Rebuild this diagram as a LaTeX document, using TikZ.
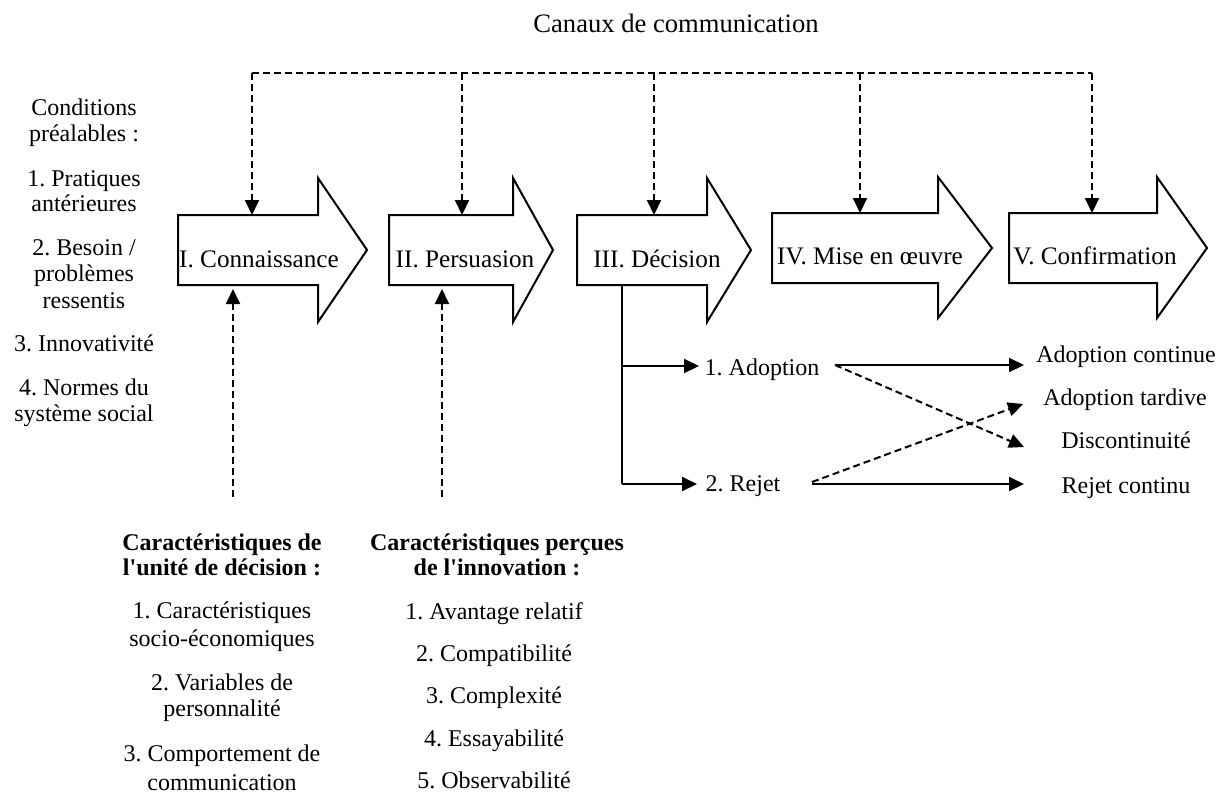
\documentclass[tikz,border=0pt]{standalone}
\usepackage{fontspec}
\setmainfont{Liberation Serif}
\usetikzlibrary{arrows.meta}
\begin{document}
\frenchspacing
\begin{tikzpicture}[x=0.5pt,y=-0.5pt,
  lbl/.style={font=\fontsize{12}{14}\selectfont, inner sep=0pt, anchor=base},
  stagelbl/.style={font=\fontsize{12.6}{15}\selectfont, inner sep=0pt, anchor=base},
  hdr/.style={font=\fontsize{12}{14}\selectfont\bfseries, inner sep=0pt, anchor=base},
  stagebox/.style={draw, line width=1pt, fill=white, line join=miter},
  conn/.style={line width=1pt, -{Triangle[length=7.5pt,width=7pt]}},
  dconn/.style={conn, dash pattern=on 3.5pt off 2pt},
  dline/.style={line width=1pt, dash pattern=on 3.5pt off 2pt}]
\useasboundingbox (0,0) rectangle (1224,799);

% stage arrows
\draw[stagebox] (178,215) -- (318,215) -- (318,178) -- (367,250) -- (318,322) -- (318,285) -- (178,285) -- cycle;
\draw[stagebox] (389,215) -- (513,215) -- (513,178) -- (553,250) -- (513,322) -- (513,285) -- (389,285) -- cycle;
\draw[stagebox] (577,215) -- (707,215) -- (707,178) -- (751,250) -- (707,322) -- (707,285) -- (577,285) -- cycle;
\draw[stagebox] (772,213) -- (938,213) -- (938,177) -- (992,248) -- (938,318) -- (938,283) -- (772,283) -- cycle;
\draw[stagebox] (1009,213) -- (1157,213) -- (1157,177) -- (1207,248) -- (1157,318) -- (1157,283) -- (1009,283) -- cycle;

\node[stagelbl] (s1) at (259,267) {I. Connaissance};
\node[stagelbl] (s2) at (465,267) {II. Persuasion};
\node[stagelbl] (s3) at (657,267) {III. Décision};
\node[stagelbl] (s4) at (870,264) {IV. Mise en œuvre};
\node[stagelbl] (s5) at (1095,264) {V. Confirmation};

% communication channels
\node[font=\fontsize{13.3}{15}\selectfont, inner sep=0pt, anchor=base] (canaux) at (676,32) {Canaux de communication};
\coordinate (c1) at (252,73);
\coordinate (c2) at (462,73);
\coordinate (c3) at (654,73);
\coordinate (c4) at (860,73);
\coordinate (c5) at (1092,73);
\coordinate (t1) at (252,215);
\coordinate (t2) at (462,215);
\coordinate (t3) at (654,215);
\coordinate (t4) at (860,213);
\coordinate (t5) at (1092,213);
\draw[dline] (c1) -- (c5);
\foreach \i in {1,...,5} \draw[dconn] (c\i) -- (t\i);

% left column
\node[lbl] (p1) at (84,115) {Conditions};
\node[lbl] (p2) at (84,141.7) {préalables :};
\node[lbl] (p3) at (84,186.7) {1. Pratiques};
\node[lbl] (p4) at (84,211.7) {antérieures};
\node[lbl] (p5) at (84,255) {2. Besoin /};
\node[lbl] (p6) at (84,281.7) {problèmes};
\node[lbl] (p7) at (84,308.3) {ressentis};
\node[lbl] (p8) at (84,351.7) {3. Innovativité};
\node[lbl] (p9) at (84,395) {4. Normes du};
\node[lbl] (p10) at (84,421.7) {système social};

% bottom inputs
\coordinate (u1b) at (233,497);
\coordinate (u1t) at (233,289);
\coordinate (u2b) at (442,497);
\coordinate (u2t) at (442,289);
\draw[dconn] (u1b) -- (u1t);
\draw[dconn] (u2b) -- (u2t);

\node[hdr] (d1) at (222,550) {Caractéristiques de};
\node[hdr] (d2) at (222,575) {l\textquotesingle unité de décision :};
\node[lbl] (d3) at (222,618) {1. Caractéristiques};
\node[lbl] (d4) at (222,646.7) {socio-économiques};
\node[lbl] (d5) at (222,690) {2. Variables de};
\node[lbl] (d6) at (222,716.7) {personnalité};
\node[lbl] (d7) at (222,761.7) {3. Comportement de};
\node[lbl] (d8) at (222,790) {communication};

\node[hdr] (i1) at (497,550) {Caractéristiques perçues};
\node[hdr] (i2) at (497,575) {de l\textquotesingle innovation :};
\node[lbl] (i3) at (494,619) {1. Avantage relatif};
\node[lbl] (i4) at (494,661) {2. Compatibilité};
\node[lbl] (i5) at (494,703) {3. Complexité};
\node[lbl] (i6) at (494,746) {4. Essayabilité};
\node[lbl] (i7) at (494,788) {5. Observabilité};

% decision branches
\coordinate (dtop) at (622,285);
\coordinate (dbot) at (622,484);
\coordinate (dmid) at (622,366);
\coordinate (adoptIn) at (699,366);
\coordinate (rejetIn) at (697,484);
\draw[line width=1pt] (dtop) -- (dbot);
\draw[conn] (dmid) -- (adoptIn);
\draw[conn] (dbot) -- (rejetIn);
\node[lbl] (adopt) at (762,375) {1. Adoption};
\node[lbl] (rejet) at (743,491) {2. Rejet};

\node[lbl] (o1) at (1126,362) {Adoption continue};
\node[lbl] (o2) at (1125,405) {Adoption tardive};
\node[lbl] (o3) at (1126,448) {Discontinuité};
\node[lbl] (o4) at (1126,493) {Rejet continu};

\coordinate (aOut) at (835,365);
\coordinate (rOut) at (812,484);
\coordinate (o1in) at (1024,365);
\coordinate (o2in) at (1023,404);
\coordinate (o3in) at (1024,447);
\coordinate (o4in) at (1024,484);
\draw[conn] (aOut) -- (o1in);
\draw[dconn] (aOut) -- (o3in);
\draw[dconn] ([yshift=1pt]rOut) -- (o2in);
\draw[conn] (rOut) -- (o4in);
\end{tikzpicture}
\end{document}
